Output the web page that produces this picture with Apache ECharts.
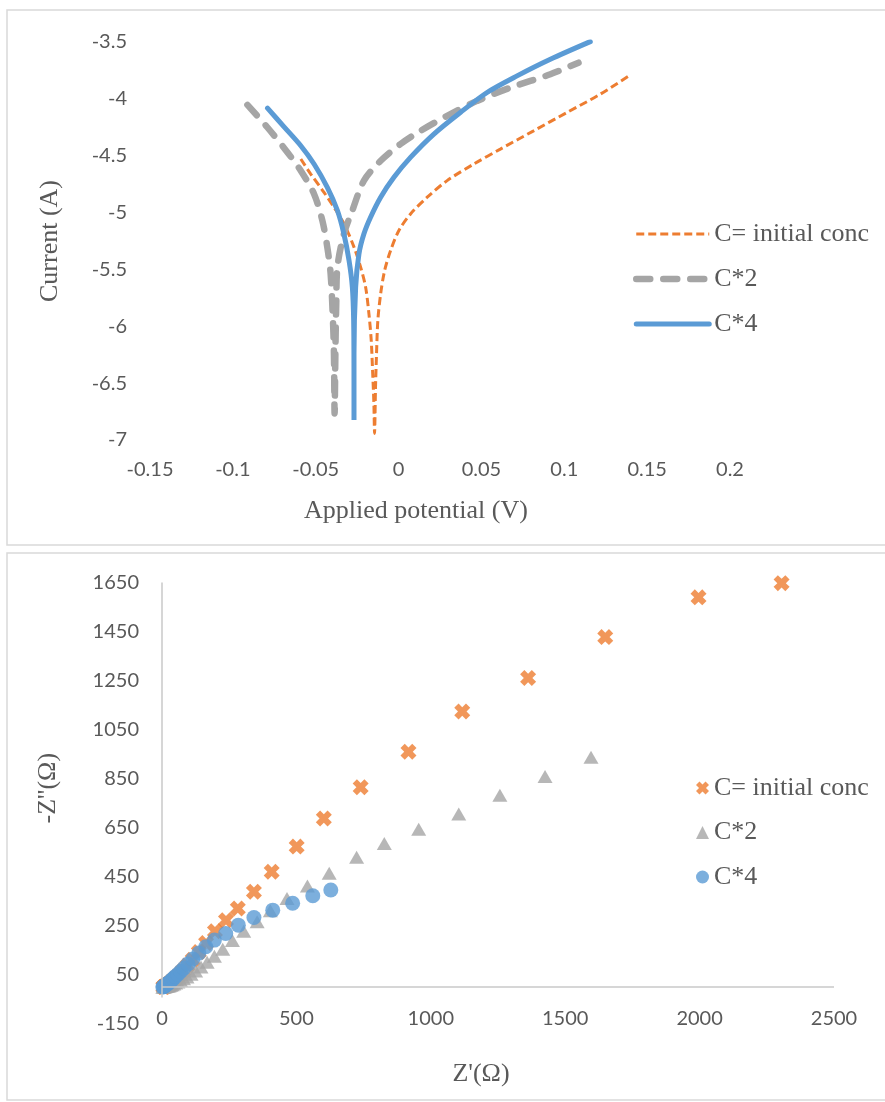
<!DOCTYPE html>
<html>
<head>
<meta charset="utf-8">
<script src="https://cdn.jsdelivr.net/npm/echarts@6/dist/echarts.min.js"></script>
<style>
  html, body { margin: 0; padding: 0; background: #fff; }
  #tafel { width: 885px; height: 548px; }
  #nyquist { width: 885px; height: 554px; }
</style>
</head>
<body>
<div id="tafel"></div>
<div id="nyquist"></div>
<script>
// Series labels shared by both plots
const seriesNames = ['C= initial conc', 'C*2', 'C*4'];
const seriesColors = ['#ED7D31', '#A5A5A5', '#5B9BD5'];

// Polarisation curves: [applied potential (V), log current (A)]
const tafelInitial = [
  [-0.0590, -4.529], [-0.0530, -4.661], [-0.0450, -4.822], [-0.0390, -4.953], [-0.0329, -5.099],
  [-0.0269, -5.304], [-0.0229, -5.480], [-0.0199, -5.655], [-0.0179, -5.889], [-0.0165, -6.123],
  [-0.0157, -6.386], [-0.0149, -6.678], [-0.0145, -6.942],
  [-0.0139, -6.532], [-0.0133, -6.240], [-0.0125, -5.947], [-0.0108, -5.713], [-0.0084, -5.509],
  [-0.0048, -5.333], [0.0002, -5.158], [0.0072, -5.012], [0.0173, -4.865], [0.0293, -4.719],
  [0.0454, -4.573], [0.0614, -4.442], [0.0815, -4.281], [0.1016, -4.120], [0.1217, -3.959],
  [0.1387, -3.800]
];
const tafelC2 = [
  [-0.0912, -4.053], [-0.0791, -4.252], [-0.0670, -4.471], [-0.0590, -4.632], [-0.0510, -4.836],
  [-0.0460, -5.070], [-0.0430, -5.304], [-0.0410, -5.538], [-0.0396, -5.947], [-0.0390, -6.240],
  [-0.0386, -6.766],
  [-0.0381, -6.200], [-0.0376, -5.800], [-0.0369, -5.480], [-0.0330, -5.187], [-0.0279, -4.982],
  [-0.0209, -4.719], [-0.0108, -4.544], [0.0012, -4.397], [0.0133, -4.281], [0.0293, -4.149],
  [0.0474, -4.018], [0.0675, -3.901], [0.0916, -3.784], [0.1086, -3.682]
];
const tafelC4 = [
  [-0.0791, -4.082], [-0.0691, -4.246], [-0.0590, -4.412], [-0.0510, -4.573], [-0.0430, -4.778],
  [-0.0369, -4.982], [-0.0330, -5.187], [-0.0299, -5.421], [-0.0279, -5.655], [-0.0271, -5.950],
  [-0.0269, -6.470], [-0.0269, -6.825],
  [-0.0269, -6.240], [-0.0259, -5.655], [-0.0239, -5.363], [-0.0209, -5.187], [-0.0169, -5.041],
  [-0.0108, -4.865], [-0.0028, -4.690], [0.0072, -4.515], [0.0213, -4.310], [0.0373, -4.120],
  [0.0534, -3.944], [0.0715, -3.798], [0.0916, -3.652], [0.1157, -3.497]
];

// Nyquist points: [Z' (ohm), -Z'' (ohm)]
const nyquistInitial = [
  [5, 1], [7, 2], [10, 3], [13, 5], [17, 7], [21, 10], [26, 14], [32, 19], [38, 25],
  [46, 32], [55, 41], [66, 53], [79, 68], [95, 88], [114, 112], [137, 143], [164, 180],
  [197, 228], [238, 273], [282, 321], [342, 389], [408, 471], [501, 573], [602, 688],
  [739, 815], [917, 960], [1117, 1124], [1362, 1260], [1649, 1427], [1996, 1589], [2305, 1647]
];
const nyquistC2 = [
  [3, 0], [6, 1], [9, 1], [12, 2], [16, 3], [20, 4], [24, 5], [28, 6], [33, 8], [38, 10],
  [44, 13], [51, 17], [59, 21], [69, 27], [80, 34], [93, 42], [108, 53], [125, 66], [145, 82],
  [168, 102], [195, 126], [226, 155], [262, 190], [304, 228], [354, 267], [403, 312],
  [465, 362], [541, 412], [622, 464], [724, 530], [827, 586], [955, 644], [1104, 706],
  [1257, 782], [1425, 859], [1596, 937]
];
const nyquistC4 = [
  [3, 1], [5, 2], [7, 3], [9, 5], [12, 7], [15, 9], [18, 12], [22, 15], [26, 19], [31, 24],
  [37, 30], [43, 36], [50, 44], [59, 53], [70, 65], [82, 78], [97, 95], [115, 115], [137, 139],
  [163, 165], [195, 192], [237, 219], [284, 253], [342, 284], [412, 314], [486, 342],
  [561, 373], [628, 396]
];

// Axis ticks
const tafelXTicks = { min: -0.15, max: 0.2, step: 0.05 };
const tafelYTicks = { min: -7, max: -3.5, step: 0.5 };
const nyquistXTicks = { min: 0, max: 2500, step: 500 };
const nyquistYTicks = { min: -150, max: 1650, step: 200 };

const TEXT = '#595959';
const SERIF = '"Liberation Serif", "Times New Roman", serif';
const SANS = 'Lato, "Open Sans", sans-serif';
const AXIS_GREY = '#C8C8C8';
const FRAME_GREY = '#D9D9D9';

const plainNumber = (v) => String(+v.toFixed(4));
const tickLabel = (margin) => ({
  color: TEXT, fontFamily: SANS, fontSize: 20, margin: margin, formatter: plainNumber
});
const titleStyle = (padding) => ({ color: TEXT, fontFamily: SERIF, fontSize: 26, padding: padding });
const legendText = { color: TEXT, fontFamily: SERIF, fontSize: 26, lineHeight: 30 };

// Line styles of the polarisation curves (also used for their legend samples)
const tafelLineStyles = [
  { color: seriesColors[0], width: 3, type: [8, 4], cap: 'butt' },
  { color: seriesColors[1], width: 6.5, type: [14, 13], cap: 'round' },
  { color: seriesColors[2], width: 5, type: 'solid', cap: 'round' }
];

// ---------- Polarisation plot ----------
const tafelChart = echarts.init(document.getElementById('tafel'), null, { renderer: 'canvas' });
tafelChart.setOption({
  animation: false,
  backgroundColor: '#fff',
  graphic: [{
    type: 'rect', silent: true,
    shape: { x: 7, y: 10, width: 890, height: 535 },
    style: { fill: 'none', stroke: FRAME_GREY, lineWidth: 1.5 }
  }],
  grid: { left: 150, top: 42, width: 580, height: 398, containLabel: false },
  xAxis: {
    type: 'value',
    min: tafelXTicks.min, max: tafelXTicks.max, interval: tafelXTicks.step,
    axisLine: { show: false }, axisTick: { show: false }, splitLine: { show: false },
    axisLabel: tickLabel(20),
    name: 'Applied potential (V)', nameLocation: 'middle', nameGap: 58,
    nameTextStyle: titleStyle([0, 48, 0, 0])
  },
  yAxis: {
    type: 'value',
    min: tafelYTicks.min, max: tafelYTicks.max, interval: tafelYTicks.step,
    axisLine: { show: false }, axisTick: { show: false }, splitLine: { show: false },
    axisLabel: tickLabel(23),
    name: 'Current (A)', nameLocation: 'middle', nameGap: 87, nameRotate: 90,
    nameTextStyle: titleStyle([0, 0, 0, 0])
  },
  legend: {
    orient: 'vertical', left: 633, top: 219, padding: 0,
    itemWidth: 73, itemHeight: 14, itemGap: 15,
    itemStyle: { opacity: 0 },
    textStyle: legendText,
    data: seriesNames.map((name, i) => ({ name: name, lineStyle: tafelLineStyles[i] }))
  },
  series: seriesNames.map((name, i) => ({
    name: name, type: 'line',
    data: [tafelInitial, tafelC2, tafelC4][i],
    symbol: 'none', smooth: 0.3, color: seriesColors[i],
    lineStyle: tafelLineStyles[i]
  }))
});

// ---------- Nyquist plot ----------
const crossSymbol = 'path://M0,3.2 L3.2,0 L6,2.8 L8.8,0 L12,3.2 L9.2,6 L12,8.8 L8.8,12 L6,9.2 L3.2,12 L0,8.8 L2.8,6 Z';
const nyquistChart = echarts.init(document.getElementById('nyquist'), null, { renderer: 'canvas' });
nyquistChart.setOption({
  animation: false,
  backgroundColor: '#fff',
  graphic: [{
    type: 'rect', silent: true,
    shape: { x: 7, y: 5, width: 890, height: 547 },
    style: { fill: 'none', stroke: FRAME_GREY, lineWidth: 1.5 }
  }],
  grid: { left: 162, top: 34.4, width: 672, height: 441.6, containLabel: false },
  xAxis: {
    type: 'value', position: 'bottom',
    min: nyquistXTicks.min, max: nyquistXTicks.max, interval: nyquistXTicks.step,
    axisLine: { show: false, onZero: false }, axisTick: { show: false }, splitLine: { show: false },
    axisLabel: tickLabel(-15),
    name: "Z'(Ω)", nameLocation: 'middle', nameGap: 37,
    nameTextStyle: titleStyle([0, 34, 0, 0])
  },
  yAxis: {
    type: 'value',
    min: nyquistYTicks.min, max: nyquistYTicks.max, interval: nyquistYTicks.step,
    axisLine: { show: false }, axisTick: { show: false }, splitLine: { show: false },
    axisLabel: tickLabel(23),
    name: "-Z''(Ω)", nameLocation: 'middle', nameGap: 101, nameRotate: 90,
    nameTextStyle: titleStyle([0, 0, 0, 30])
  },
  legend: {
    orient: 'vertical', left: 696, top: 225, padding: 0,
    itemWidth: 13, itemHeight: 13, itemGap: 14.5,
    textStyle: legendText,
    data: seriesNames
  },
  series: [
    {
      name: seriesNames[0], type: 'scatter', data: nyquistInitial,
      symbol: crossSymbol, symbolSize: 16,
      itemStyle: { color: seriesColors[0] },
      // Axis lines: Z'' = 0 across the plot and Z' = 0 from just above the bottom labels
      markLine: {
        silent: true, symbol: 'none', label: { show: false },
        lineStyle: { color: AXIS_GREY, width: 1.5, type: 'solid' },
        data: [
          { yAxis: 0 },
          [{ coord: [0, -42] }, { coord: [0, nyquistYTicks.max] }]
        ]
      }
    },
    {
      name: seriesNames[1], type: 'scatter', data: nyquistC2,
      symbol: 'triangle', symbolSize: [15, 13],
      itemStyle: { color: seriesColors[1] }
    },
    {
      name: seriesNames[2], type: 'scatter', data: nyquistC4,
      symbol: 'circle', symbolSize: 15,
      itemStyle: { color: seriesColors[2] }
    }
  ]
});
</script>
</body>
</html>
